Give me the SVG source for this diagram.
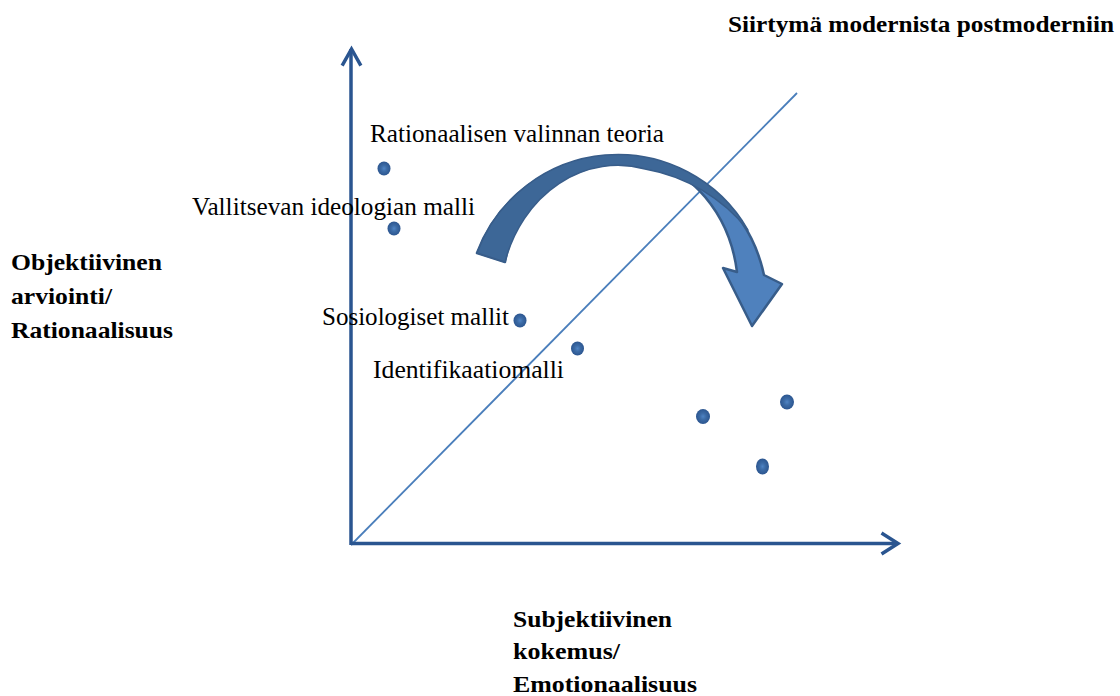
<svg xmlns="http://www.w3.org/2000/svg" width="1120" height="696" viewBox="0 0 1120 696">
<style>
.lbl{font-family:'Liberation Serif','Times New Roman',serif;font-size:25px;fill:#000}
.bold{font-family:'Liberation Serif','Times New Roman',serif;font-size:24px;font-weight:bold;fill:#000}
.axis{stroke:#2a5590;stroke-width:3.5;fill:none}
.head{stroke:#2a5590;stroke-width:3.5;fill:none;stroke-linecap:square;stroke-linejoin:miter}
</style>
<defs>
<radialGradient id="dg" cx="0.5" cy="0.5" r="0.5">
<stop offset="0" stop-color="#4f84c4"/>
<stop offset="0.45" stop-color="#3b6aa5"/>
<stop offset="1" stop-color="#2c5690"/>
</radialGradient>
</defs>
<rect width="1120" height="696" fill="#ffffff"/>
<g id="connectors">
<line x1="351" y1="545" x2="797" y2="93" stroke="#4a7ebb" stroke-width="1.8"/>
<line class="axis" x1="351" y1="545" x2="351" y2="49"/>
<polyline class="head" points="343,64 351.5,49 360,64"/>
<line class="axis" x1="351" y1="543.5" x2="897" y2="543.5"/>
<polyline class="head" points="883,534 898,543.5 883,553"/>
</g>
<g id="curved-arrow">
<path d="M477,253 A150,150 0 0 1 764,275 L782,284 L752,326 L723,268 L737,272 A118,136 0 0 0 505,262 Z" fill="#4f81bd" stroke="#385d8a" stroke-width="2.5" stroke-linejoin="round"/>
<path d="M477,253 A150,150 0 0 1 748,230 A170,170 0 0 0 645,169 A118,136 0 0 0 505,262 Z" fill="#3d6797" stroke="#385d8a" stroke-width="1.5" stroke-linejoin="round"/>
</g>
<g id="title">
<text class="bold" x="728" y="32" textLength="386" lengthAdjust="spacingAndGlyphs">Siirtymä modernista postmoderniin</text>
</g>
<g id="y-label">
<text class="bold" x="11" y="270" textLength="151" lengthAdjust="spacingAndGlyphs">Objektiivinen</text>
<text class="bold" x="11" y="304" textLength="101" lengthAdjust="spacingAndGlyphs">arviointi/</text>
<text class="bold" x="11" y="338" textLength="162" lengthAdjust="spacingAndGlyphs">Rationaalisuus</text>
</g>
<g id="x-label">
<text class="bold" x="513" y="627" textLength="159" lengthAdjust="spacingAndGlyphs">Subjektiivinen</text>
<text class="bold" x="513" y="659" textLength="107" lengthAdjust="spacingAndGlyphs">kokemus/</text>
<text class="bold" x="513" y="692" textLength="184" lengthAdjust="spacingAndGlyphs">Emotionaalisuus</text>
</g>
<g id="node-rationaalisen">
<text class="lbl" x="370" y="142" textLength="294" lengthAdjust="spacingAndGlyphs">Rationaalisen valinnan teoria</text>
<ellipse cx="384" cy="168.5" rx="6.5" ry="7" fill="url(#dg)"/>
</g>
<g id="node-vallitsevan">
<text class="lbl" x="192" y="215" textLength="283" lengthAdjust="spacingAndGlyphs">Vallitsevan ideologian malli</text>
<ellipse cx="394" cy="228.5" rx="6.5" ry="7" fill="url(#dg)"/>
</g>
<g id="node-sosiologiset">
<text class="lbl" x="322" y="325" textLength="187" lengthAdjust="spacingAndGlyphs">Sosiologiset mallit</text>
<ellipse cx="520" cy="320.5" rx="6.5" ry="7" fill="url(#dg)"/>
</g>
<g id="node-identifikaatio">
<text class="lbl" x="373" y="378" textLength="191" lengthAdjust="spacingAndGlyphs">Identifikaatiomalli</text>
<ellipse cx="577.5" cy="348.5" rx="6.5" ry="7" fill="url(#dg)"/>
</g>
<g id="node-dot-5">
<ellipse cx="703" cy="416.5" rx="7" ry="7.5" fill="url(#dg)"/>
</g>
<g id="node-dot-6">
<ellipse cx="787" cy="402" rx="7" ry="7.5" fill="url(#dg)"/>
</g>
<g id="node-dot-7">
<ellipse cx="762.5" cy="466.5" rx="6.5" ry="8" fill="url(#dg)"/>
</g>
</svg>
